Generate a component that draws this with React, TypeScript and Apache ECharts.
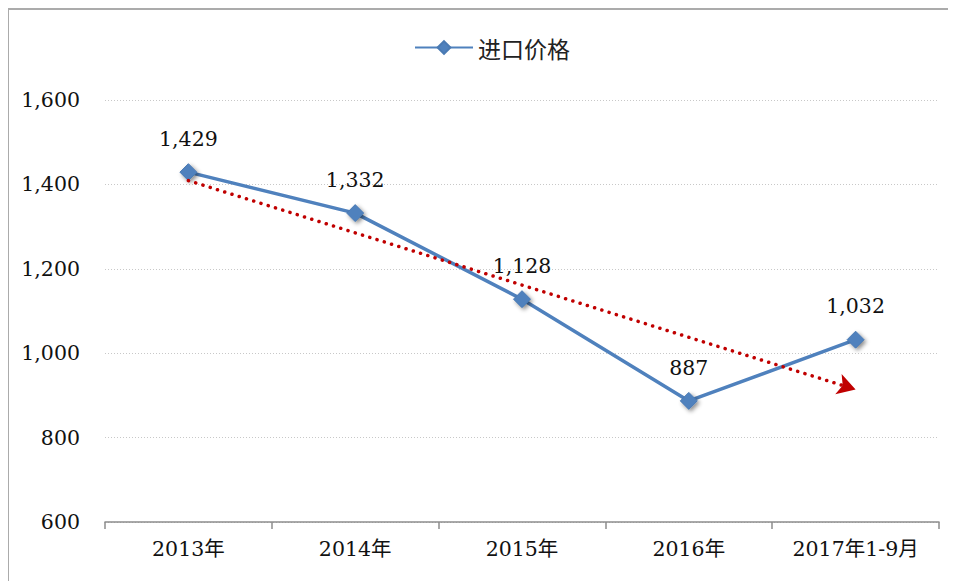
import React, { useEffect, useRef } from "react";
import * as echarts from "echarts";

const categories = ["2013年", "2014年", "2015年", "2016年", "2017年1-9月"];
const importPrice = [1429, 1332, 1128, 887, 1032];
const trendStart = 1409;
const trendEnd = 914;
const seriesName = "进口价格";

const serif = "'DejaVu Serif', 'Noto Sans CJK SC', serif";

export default function App() {
  const ref = useRef<HTMLDivElement>(null);
  useEffect(() => {
    if (!ref.current) return;
    const chart = echarts.init(ref.current, null, { renderer: "svg" });
    chart.setOption({
      animation: false,
      backgroundColor: "#ffffff",
      graphic: [
        {
          type: "rect",
          shape: { x: 0, y: 1, width: 1000, height: 700 },
          style: { fill: "none", stroke: "#ABABAB", lineWidth: 2 },
          silent: true,
        },
      ],
      legend: {
        data: [seriesName],
        top: 23,
        left: 401,
        itemWidth: 58,
        itemHeight: 16,
        itemGap: 1,
        textStyle: { fontFamily: "'Noto Sans CJK SC', sans-serif", fontSize: 23, color: "#222" },
      },
      grid: { left: 97, right: 17, top: 92, bottom: 59 },
      xAxis: {
        type: "category",
        data: categories,
        boundaryGap: true,
        axisLine: { show: true, lineStyle: { color: "#8C8C8C", width: 1.5 } },
        axisTick: { show: true, length: 7, lineStyle: { color: "#8C8C8C", width: 1.5 } },
        axisLabel: { margin: 17, fontFamily: serif, fontSize: 20.5, color: "#111" },
        splitLine: { show: false },
      },
      yAxis: {
        type: "value",
        min: 600,
        max: 1600,
        interval: 200,
        axisLine: { show: false },
        axisTick: { show: false },
        axisLabel: {
          margin: 25,
          fontFamily: serif,
          fontSize: 20.5,
          color: "#111",
          formatter: (v: number) => v.toLocaleString("en-US"),
        },
        splitLine: { lineStyle: { color: "#C8C8C8", type: [1, 2], width: 1 } },
      },
      series: [
        {
          name: seriesName,
          type: "line",
          data: importPrice,
          symbol: "diamond",
          symbolSize: 17,
          lineStyle: { color: "#4F81BD", width: 3.5 },
          itemStyle: {
            color: "#4F81BD",
            borderColor: "#4A7AB3",
            borderWidth: 1,
            shadowBlur: 4,
            shadowColor: "rgba(0,0,0,0.45)",
            shadowOffsetX: 2,
            shadowOffsetY: 2,
          },
          label: {
            show: true,
            position: "top",
            distance: 14,
            fontFamily: serif,
            fontSize: 20.5,
            color: "#111",
            formatter: (p: any) => Number(p.value).toLocaleString("en-US"),
          },
          markLine: {
            silent: true,
            symbol: ["none", "arrow"],
            symbolSize: [16, 18],
            label: { show: false },
            lineStyle: { color: "#C00000", width: 3.5, type: [0.1, 7.5], cap: "round" },
            emphasis: { disabled: true },
            data: [
              [
                { coord: [categories[0], trendStart], symbol: "none" },
                { coord: [categories[categories.length - 1], trendEnd], symbol: "arrow" },
              ],
            ],
          },
          z: 3,
        },
      ],
    });
    return () => chart.dispose();
  }, []);
  return <div ref={ref} style={{ width: 948, height: 573 }} />;
}
